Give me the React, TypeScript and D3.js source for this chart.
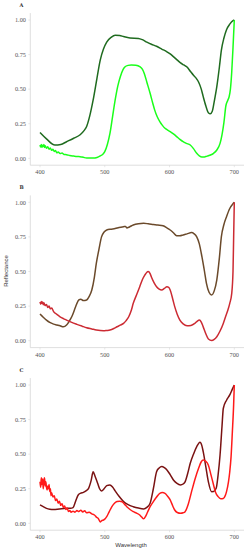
import React from "react";
import * as d3 from "d3";

type P = [number, number];

const xTicks = [400, 500, 600, 700];
const yTicks = [0, 0.25, 0.5, 0.75, 1];
const panelLabels = ["A", "B", "C"];

// Panel A
const aDark: P[] = [
  [400, 0.186], [410, 0.14], [423, 0.096], [432, 0.1], [441, 0.12], [452, 0.145], [462, 0.17], [468, 0.2], [472, 0.23],
  [477, 0.31], [482, 0.42], [488, 0.58], [493, 0.71], [498, 0.79], [503, 0.84], [510, 0.875], [516, 0.89], [523, 0.888],
  [529, 0.88], [539, 0.87], [552, 0.867], [558, 0.858], [565, 0.84], [572, 0.825], [580, 0.81], [588, 0.79], [596, 0.77],
  [601, 0.755], [606, 0.735], [612, 0.71], [617, 0.69], [622, 0.675], [627, 0.66], [632, 0.63], [637, 0.6], [641, 0.58],
  [645, 0.55], [649, 0.5], [652, 0.446], [656, 0.38], [660, 0.33], [663, 0.322], [666, 0.34], [669, 0.41], [673, 0.518],
  [677, 0.66], [680, 0.78], [684, 0.87], [688, 0.93], [693, 0.97], [698, 0.995], [700, 1.0],
];
const aLight: P[] = [
  [400, 0.096], [401, 0.082], [402, 0.1], [403, 0.08], [404, 0.094], [405, 0.086], [406, 0.1], [407, 0.078], [408, 0.09],
  [410, 0.072], [412, 0.084], [414, 0.066], [416, 0.074], [418, 0.058], [420, 0.066], [422, 0.05], [424, 0.056], [426, 0.04],
  [428, 0.046], [431, 0.034], [434, 0.038], [437, 0.028], [441, 0.026], [446, 0.02], [452, 0.016], [457, 0.013], [462, 0.012],
  [467, 0.007], [472, 0.002], [477, 0.003], [482, 0.002], [488, 0.006], [493, 0.017], [497, 0.03], [500, 0.048], [504, 0.1],
  [508, 0.18], [512, 0.3], [516, 0.42], [520, 0.52], [524, 0.59], [528, 0.64], [531, 0.66], [536, 0.672], [541, 0.675],
  [548, 0.673], [554, 0.663], [558, 0.645], [561, 0.614], [565, 0.55], [570, 0.47], [574, 0.4], [577, 0.35], [581, 0.3],
  [585, 0.265], [589, 0.238], [593, 0.217], [597, 0.204], [601, 0.193], [606, 0.176], [611, 0.157], [616, 0.137],
  [621, 0.12], [626, 0.108], [632, 0.096], [637, 0.07], [642, 0.036], [646, 0.018], [650, 0.01], [654, 0.01], [657, 0.014],
  [662, 0.022], [668, 0.036], [673, 0.06], [678, 0.108], [681, 0.17], [684, 0.26], [687, 0.38], [690, 0.42], [692, 0.445],
  [694, 0.5], [696, 0.62], [698, 0.8], [699, 0.9], [700, 1.0],
];

// Panel B
const bBrown: P[] = [
  [400, 0.193], [405, 0.17], [410, 0.149], [415, 0.132], [421, 0.12], [426, 0.114], [431, 0.108], [436, 0.1], [441, 0.113],
  [445, 0.14], [449, 0.173], [453, 0.22], [457, 0.27], [460, 0.295], [463, 0.3], [467, 0.29], [472, 0.294], [476, 0.32],
  [480, 0.366], [484, 0.46], [487, 0.56], [491, 0.66], [495, 0.75], [499, 0.785], [503, 0.8], [510, 0.806], [516, 0.81],
  [522, 0.818], [529, 0.824], [532, 0.826], [534, 0.815], [538, 0.822], [544, 0.836], [552, 0.845], [560, 0.848],
  [567, 0.845], [575, 0.84], [582, 0.836], [590, 0.83], [596, 0.815], [601, 0.8], [606, 0.78], [611, 0.759], [616, 0.758],
  [621, 0.764], [627, 0.772], [634, 0.781], [638, 0.772], [642, 0.75], [646, 0.7], [650, 0.607], [654, 0.5], [657, 0.414],
  [661, 0.35], [665, 0.33], [669, 0.36], [673, 0.44], [677, 0.6], [680, 0.75], [684, 0.84], [688, 0.896], [693, 0.955],
  [698, 0.99], [700, 1.0],
];
const bRed: P[] = [
  [400, 0.28], [401, 0.264], [402, 0.284], [403, 0.27], [404, 0.28], [405, 0.26], [406, 0.274], [408, 0.254], [410, 0.262],
  [412, 0.24], [414, 0.25], [416, 0.23], [418, 0.236], [421, 0.21], [426, 0.19], [431, 0.173], [436, 0.16], [441, 0.149],
  [449, 0.132], [457, 0.118], [465, 0.105], [472, 0.094], [480, 0.085], [487, 0.077], [493, 0.073], [498, 0.072],
  [503, 0.074], [508, 0.077], [514, 0.088], [519, 0.101], [524, 0.112], [529, 0.125], [533, 0.145], [537, 0.173],
  [541, 0.22], [544, 0.27], [549, 0.33], [554, 0.39], [558, 0.44], [562, 0.475], [565, 0.495], [567, 0.5], [570, 0.485],
  [572, 0.46], [576, 0.42], [580, 0.39], [584, 0.372], [588, 0.366], [592, 0.378], [596, 0.39], [599, 0.384], [601, 0.366],
  [605, 0.3], [608, 0.246], [612, 0.19], [616, 0.149], [621, 0.122], [627, 0.108], [633, 0.11], [639, 0.125], [643, 0.142],
  [646, 0.149], [649, 0.135], [652, 0.1], [656, 0.05], [660, 0.012], [665, 0.002], [669, 0.01], [673, 0.029], [678, 0.07],
  [683, 0.125], [687, 0.18], [690, 0.22], [693, 0.27], [696, 0.34], [698, 0.5], [699, 0.75], [700, 1.0],
];

// Panel C
const cDark: P[] = [
  [400, 0.133], [405, 0.12], [410, 0.108], [415, 0.102], [421, 0.1], [430, 0.104], [441, 0.108], [447, 0.108], [451, 0.113],
  [455, 0.16], [459, 0.205], [463, 0.218], [467, 0.224], [471, 0.235], [475, 0.253], [479, 0.31], [482, 0.373],
  [485, 0.34], [489, 0.289], [492, 0.25], [495, 0.234], [499, 0.25], [503, 0.272], [508, 0.277], [512, 0.262], [516, 0.234],
  [522, 0.195], [529, 0.157], [536, 0.135], [544, 0.12], [552, 0.11], [560, 0.104], [565, 0.115], [570, 0.145],
  [575, 0.25], [580, 0.373], [584, 0.4], [588, 0.41], [592, 0.402], [596, 0.386], [601, 0.352], [606, 0.313], [611, 0.29],
  [617, 0.277], [621, 0.284], [624, 0.3], [628, 0.36], [632, 0.434], [637, 0.5], [642, 0.554], [647, 0.586], [650, 0.56],
  [652, 0.518], [656, 0.41], [660, 0.3], [665, 0.229], [668, 0.23], [672, 0.253], [675, 0.35], [678, 0.494], [681, 0.7],
  [683, 0.83], [688, 0.89], [693, 0.928], [697, 0.97], [700, 1.0],
];
const cRed: P[] = [
  [400, 0.3], [401, 0.26], [402, 0.33], [403, 0.28], [404, 0.32], [405, 0.25], [406, 0.31], [407, 0.33], [408, 0.27],
  [409, 0.3], [410, 0.26], [411, 0.24], [412, 0.27], [413, 0.25], [414, 0.28], [415, 0.23], [416, 0.25], [417, 0.2],
  [418, 0.22], [420, 0.19], [422, 0.2], [424, 0.165], [426, 0.175], [428, 0.145], [430, 0.16], [432, 0.13], [434, 0.142],
  [436, 0.115], [438, 0.125], [440, 0.1], [442, 0.11], [444, 0.085], [446, 0.092], [448, 0.08], [451, 0.088], [454, 0.08],
  [457, 0.092], [460, 0.085], [463, 0.095], [466, 0.082], [469, 0.09], [472, 0.076], [476, 0.08], [480, 0.068],
  [484, 0.06], [487, 0.045], [490, 0.035], [493, 0.01], [495, 0.018], [498, 0.024], [500, 0.03], [503, 0.048], [507, 0.085],
  [511, 0.12], [515, 0.145], [519, 0.157], [523, 0.16], [527, 0.155], [531, 0.135], [534, 0.12], [539, 0.1], [544, 0.084],
  [549, 0.074], [554, 0.06], [557, 0.045], [560, 0.032], [563, 0.05], [566, 0.08], [570, 0.12], [575, 0.157], [580, 0.19],
  [585, 0.217], [589, 0.222], [593, 0.217], [597, 0.195], [601, 0.169], [605, 0.125], [608, 0.096], [612, 0.078],
  [617, 0.072], [621, 0.076], [624, 0.084], [629, 0.14], [634, 0.229], [640, 0.33], [645, 0.4], [649, 0.445], [652, 0.458],
  [656, 0.448], [660, 0.42], [664, 0.35], [668, 0.277], [671, 0.225], [675, 0.193], [679, 0.178], [683, 0.18], [686, 0.2],
  [688, 0.229], [691, 0.3], [693, 0.373], [695, 0.48], [697, 0.66], [699, 0.86], [700, 1.0],
];

const panels = [
  { label: panelLabels[0], series: [{ d: aDark, c: "#1f6b1f" }, { d: aLight, c: "#1aff1a" }], y1: 20, y0: 158.3 },
  { label: panelLabels[1], series: [{ d: bBrown, c: "#6b4a2b" }, { d: bRed, c: "#cc2b33" }], y1: 202.3, y0: 340.7 },
  { label: panelLabels[2], series: [{ d: cDark, c: "#7a1212" }, { d: cRed, c: "#ff1a1a" }], y1: 385, y0: 523.3 },
];

const x = d3.scaleLinear().domain([400, 700]).range([40, 234.3]);
const xLeft = x(385);
const xRight = x(715);

export default function App() {
  return (
    <svg
      width={249}
      height={550}
      style={{ position: "absolute", left: 0, top: 0, background: "#fff" }}
    >
      {panels.map((p, i) => {
        const y = d3.scaleLinear().domain([0, 1]).range([p.y0, p.y1]);
        const yb = y(-0.05);
        const yt = y(1.05);
        const line = d3
          .line<P>()
          .x((d) => x(d[0]))
          .y((d) => y(d[1]))
          .curve(d3.curveMonotoneX);
        return (
          <g key={i}>
            <text x={21.5} y={yt - 6} fontSize={5} fontWeight="bold" fontFamily="DejaVu Serif, serif" textAnchor="middle" fill="#333">
              {p.label}
            </text>
            <line x1={xLeft} x2={xLeft} y1={yt} y2={yb} stroke="#d6d6d6" strokeWidth={0.8} />
            <line x1={xLeft} x2={xRight} y1={yb} y2={yb} stroke="#d6d6d6" strokeWidth={0.8} />
            {yTicks.map((t) => (
              <g key={t}>
                <line x1={xLeft - 2} x2={xLeft} y1={y(t)} y2={y(t)} stroke="#d6d6d6" strokeWidth={0.6} />
                <text x={26} y={y(t)} dy="0.35em" fontSize={6.3} textAnchor="end" fontFamily="Liberation Serif, serif" fill="#555">
                  {t.toFixed(2)}
                </text>
              </g>
            ))}
            {xTicks.map((t) => (
              <g key={t}>
                <line x1={x(t)} x2={x(t)} y1={yb} y2={yb + 2} stroke="#d6d6d6" strokeWidth={0.6} />
                <text x={x(t)} y={yb + 4.5} dy="0.7em" fontSize={6.3} textAnchor="middle" fontFamily="Liberation Serif, serif" fill="#555">
                  {t}
                </text>
              </g>
            ))}
            {p.series.map((s, j) => (
              <path key={j} d={line(s.d) || ""} fill="none" stroke={s.c} strokeWidth={1.5} strokeLinejoin="round" />
            ))}
          </g>
        );
      })}
      <text
        transform="translate(6,271) rotate(-90)"
        fontSize={6}
        textAnchor="middle"
        dy="0.35em"
        fontFamily="Liberation Sans, Arial, sans-serif"
        fill="#333"
      >
        Reflectance
      </text>
      <text x={131} y={545} dy="0.35em" fontSize={6} textAnchor="middle" fontFamily="Liberation Sans, Arial, sans-serif" fill="#333">
        Wavelength
      </text>
    </svg>
  );
}
